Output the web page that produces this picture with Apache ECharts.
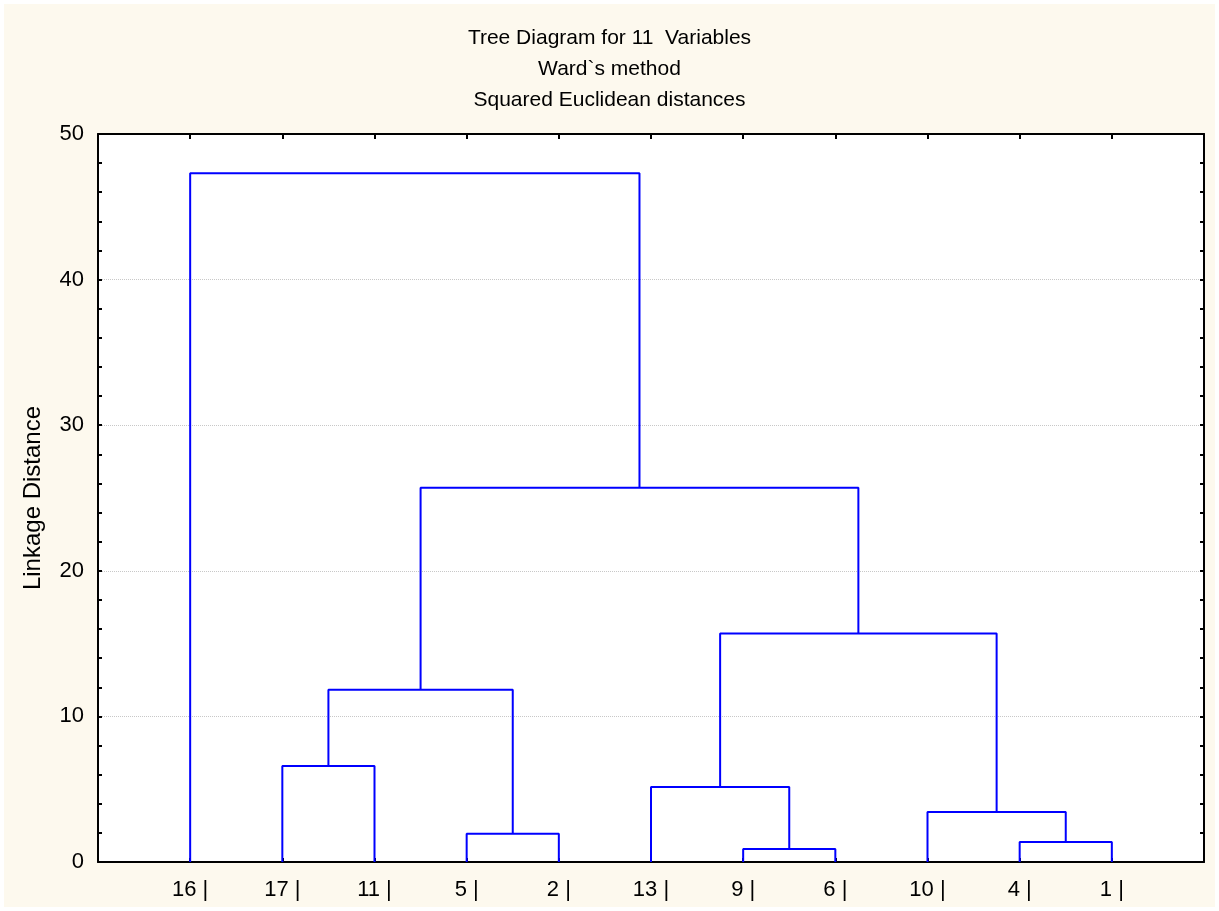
<!DOCTYPE html>
<html>
<head>
<meta charset="utf-8">
<title>Tree Diagram for 11 Variables</title>
<script src="https://cdn.jsdelivr.net/npm/echarts@6/dist/echarts.min.js"></script>
<style>
  html, body { margin: 0; padding: 0; background: #ffffff; }
  #frame { position: absolute; left: 4px; top: 4px; width: 1211px; height: 903px; background: #fdf9ee; }
  #chart { position: absolute; left: 0; top: 0; width: 1219px; height: 911px; }
</style>
</head>
<body>
<div id="frame"></div>
<div id="chart"></div>
<script>
// Leaf order along the horizontal axis (positions 1..11)
const leafLabels = ['16', '17', '11', '5', '2', '13', '9', '6', '10', '4', '1'];

// Agglomeration steps: the two clusters joined and the linkage distance.
// Leaves are referenced by label, earlier merges by 'c' + step index.
const mergeLeft   = ['9',  '4',  '5',  '10', '13', '17', 'c5', 'c4', 'c6', '16'];
const mergeRight  = ['6',  '1',  '2',  'c1', 'c0', '11', 'c2', 'c3', 'c7', 'c8'];
const mergeHeight = [0.89, 1.37, 1.94, 3.43, 5.15, 6.59, 11.83, 15.69, 25.7, 47.3];

// Y axis ticks
const yTicks = [0, 10, 20, 30, 40, 50];

// Resolve position and height of every node
const nodePos = {};
const nodeHeight = {};
leafLabels.forEach((l, i) => { nodePos[l] = i + 1; nodeHeight[l] = 0; });
const branchSeries = mergeHeight.map((h, i) => {
  const a = mergeLeft[i], b = mergeRight[i];
  const xa = nodePos[a], xb = nodePos[b];
  const id = 'c' + i;
  nodePos[id] = (xa + xb) / 2;
  nodeHeight[id] = h;
  return {
    type: 'line',
    xAxisIndex: 0,
    yAxisIndex: 0,
    symbol: 'none',
    silent: true,
    animation: false,
    lineStyle: { color: '#0000ff', width: 2 },
    data: [[xa, nodeHeight[a]], [xa, h], [xb, h], [xb, nodeHeight[b]]]
  };
});

const FONT = '"Liberation Sans", Arial, sans-serif';
const nLeaves = leafLabels.length;

const chart = echarts.init(document.getElementById('chart'), null, { renderer: 'canvas' });
chart.setOption({
  backgroundColor: 'transparent',
  animation: false,
  title: {
    text: 'Tree Diagram for 11  Variables\nWard`s method\nSquared Euclidean distances',
    left: 'center',
    top: 18,
    textStyle: {
      fontFamily: FONT,
      fontSize: 21,
      fontWeight: 'normal',
      color: '#000',
      lineHeight: 31
    }
  },
  grid: {
    left: 98, right: 15, top: 134, bottom: 49,
    show: true,
    backgroundColor: '#ffffff',
    borderWidth: 0
  },
  xAxis: [
    {
      type: 'value',
      position: 'bottom',
      min: 0, max: nLeaves + 1, interval: 1,
      axisLine: { show: true, onZero: false, lineStyle: { color: '#000', width: 2 } },
      axisTick: { show: true, inside: true, length: 4, lineStyle: { color: '#000', width: 2 } },
      axisLabel: {
        show: true,
        margin: 17,
        fontFamily: FONT,
        fontSize: 22,
        color: '#000',
        formatter: v => (v >= 1 && v <= nLeaves) ? leafLabels[v - 1] + ' |' : ''
      },
      splitLine: { show: false }
    },
    {
      type: 'value',
      position: 'top',
      min: 0, max: nLeaves + 1, interval: 1,
      axisLine: { show: true, onZero: false, lineStyle: { color: '#000', width: 2 } },
      axisTick: { show: true, inside: true, length: 5, lineStyle: { color: '#000', width: 2 } },
      axisLabel: { show: false },
      splitLine: { show: false }
    }
  ],
  yAxis: [
    {
      type: 'value',
      position: 'left',
      min: yTicks[0], max: yTicks[yTicks.length - 1], interval: 10,
      name: 'Linkage Distance',
      nameLocation: 'middle',
      nameRotate: 90,
      nameGap: 53,
      nameTextStyle: { fontFamily: FONT, fontSize: 24, color: '#000' },
      axisLine: { show: true, onZero: false, lineStyle: { color: '#000', width: 2 } },
      axisTick: { show: true, inside: true, length: 4, lineStyle: { color: '#000', width: 2 } },
      minorTick: { show: true, splitNumber: 5, length: 4, lineStyle: { color: '#000', width: 2 } },
      axisLabel: { margin: 14, fontFamily: FONT, fontSize: 22, color: '#000' },
      splitLine: { show: true, lineStyle: { color: '#c8c8c8', type: 'dotted', width: 1 } }
    },
    {
      type: 'value',
      position: 'right',
      min: yTicks[0], max: yTicks[yTicks.length - 1], interval: 10,
      axisLine: { show: true, onZero: false, lineStyle: { color: '#000', width: 2 } },
      axisTick: { show: true, inside: true, length: 4, lineStyle: { color: '#000', width: 2 } },
      minorTick: { show: true, splitNumber: 5, length: 4, lineStyle: { color: '#000', width: 2 } },
      axisLabel: { show: false },
      splitLine: { show: false }
    }
  ],
  series: branchSeries
});
</script>
</body>
</html>
